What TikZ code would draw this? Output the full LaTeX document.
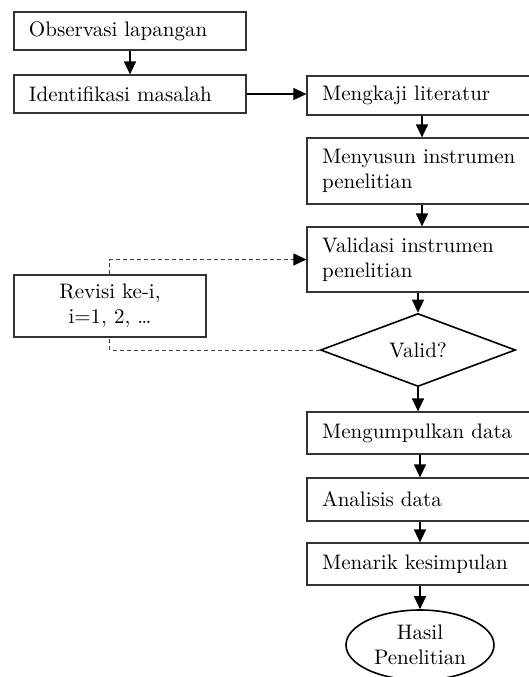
\documentclass[tikz,border=0pt]{standalone}
\usepackage{tikz}
\usetikzlibrary{shapes.geometric,arrows.meta}

\begin{document}
\begin{tikzpicture}[x=0.5pt,y=-0.5pt, font=\fontsize{10.5}{12.5}\selectfont,
	kotak/.style={draw=black!80, line width=0.6pt, text width=#1, inner xsep=7.5pt, inner ysep=0pt, align=flush left},
	kotak/.default=100pt,
	pilihan/.style={draw=black, line width=0.8pt, shape=diamond, inner sep=0pt, minimum width=97.5pt, minimum height=35pt},
	hasil/.style={draw=black, line width=0.8pt, shape=ellipse, inner sep=0pt, minimum width=74pt, minimum height=35pt, align=center},
	panah/.style={draw=black, line width=0.6pt, -{Triangle[length=6.5pt,width=6pt]}},
	putus/.style={draw=black!75, line width=0.5pt, dash pattern=on 2pt off 1.5pt}]
	\useasboundingbox (0,0) rectangle (529,677);
	\node[kotak=101pt, minimum height=19pt] (obs) at (130,31) {Observasi lapangan};
	\node[kotak=101pt, minimum height=19pt] (idn) at (130,94) {Identifikasi masalah};
	\node[kotak, minimum height=19.5pt] (kaji) at (422,95.5) {Mengkaji literatur};
	\node[kotak, minimum height=33pt] (susun) at (422,171) {Menyusun instrumen\\penelitian};
	\node[kotak, minimum height=32.5pt] (valid) at (422,259.5) {Validasi instrumen\\penelitian};
	\node[pilihan] (cek) at (418,350) {Valid?};
	\node[draw=black!80, line width=0.6pt, minimum width=96pt, minimum height=31pt, align=center] (revisi) at (110,306) {Revisi ke-i,\\i=1, 2, \dots};
	\node[kotak, minimum height=21pt] (kumpul) at (422,433) {Mengumpulkan data};
	\node[kotak, minimum height=21.5pt] (analisis) at (422,499.5) {Analisis data};
	\node[kotak, minimum height=21pt] (tarik) at (422,564) {Menarik kesimpulan};
	\node[hasil] (akhir) at (420,645) {Hasil\\Penelitian};
	\draw[panah] (obs) -- (idn);
	\draw[panah] (idn.east) -- (idn.east -| kaji.west);
	\draw[panah] (kaji) -- (susun);
	\draw[panah] (susun) -- (valid);
	\draw[panah] (valid.south -| cek.north) -- (cek.north);
	\draw[panah] (cek.south) -- (cek.south |- kumpul.north);
	\draw[panah] (kumpul.south -| akhir.north) -- (analisis.north -| akhir.north);
	\draw[panah] (analisis.south -| akhir.north) -- (tarik.north -| akhir.north);
	\draw[panah] (tarik.south -| akhir.north) -- (akhir.north);
	\draw[putus] (cek.west) -| (revisi.south);
	\draw[putus] (revisi.north) |- (valid.west);
	\draw[panah] ([xshift=-6.5pt]valid.west) -- (valid.west);
\end{tikzpicture}
\end{document}
